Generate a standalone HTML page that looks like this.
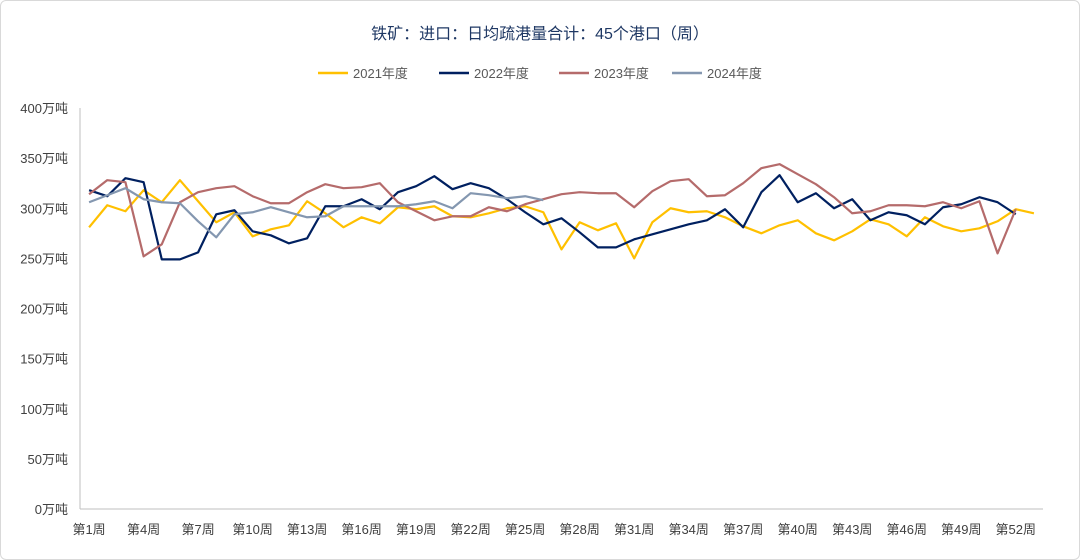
<!DOCTYPE html>
<html><head><meta charset="utf-8"><style>
body{margin:0;background:#fff;}
#card{position:absolute;left:0;top:0;width:1078px;height:558px;border:1px solid #d9d9d9;border-radius:6px;background:#fff;}
svg{position:absolute;left:0;top:0;}
text{font-family:"Liberation Sans","Noto Sans CJK SC",sans-serif;}
</style></head><body>
<div id="card"></div>
<svg id="chart" width="1080" height="560"></svg>
<script>
const weeks = Array.from({length:53},(_,i)=>'第'+(i+1)+'周');
const seriesNames = ['2021年度','2022年度','2023年度','2024年度'];
const y2021 = [281,303,297,318,306,328,307,286,296,272,279,283,307,295,281,291,285,301,299,302,292,291,295,300,302,296,259,286,278,285,250,286,300,296,297,291,282,275,283,288,275,268,277,289,284,272,291,282,277,280,287,299,295];
const y2022 = [318,312,330,326,249,249,256,294,298,277,273,265,270,302,302,309,299,316,322,332,319,325,320,309,296,284,290,276,261,261,269,274,279,284,288,299,281,316,333,306,315,300,309,288,296,293,284,301,304,311,306,294];
const y2023 = [314,328,326,252,264,306,316,320,322,312,305,305,316,324,320,321,325,306,297,288,292,292,301,297,304,309,314,316,315,315,301,317,327,329,312,313,325,340,344,334,324,311,295,297,303,303,302,306,300,307,255,299];
const y2024 = [306,313,320,309,306,305,287,271,294,296,301,296,291,292,302,302,302,302,304,307,300,315,313,310,312,308];
const yTicks = [0,50,100,150,200,250,300,350,400];
const colors = ['#FFC000','#002060','#B56B6B','#8497B0'];
const allSeries = [y2021,y2022,y2023,y2024];

const svg = document.getElementById('chart');
const NS='http://www.w3.org/2000/svg';
const L=80,R=1043,T=108,B=509;
const bw=(R-L)/weeks.length;
const xs=i=>L+(i+0.5)*bw;
const ys=v=>B-(v/400)*(B-T);
function mk(tag,attrs,parent){const e=document.createElementNS(NS,tag);for(const k in attrs)e.setAttribute(k,attrs[k]);(parent||svg).appendChild(e);return e;}

const title=mk('text',{x:540,y:39,'text-anchor':'middle','font-size':'16',fill:'#1F3864'});
title.textContent='铁矿：进口：日均疏港量合计：45个港口（周）';



// legend
const legX=[318,439,559,672];
seriesNames.forEach((n,k)=>{
  const g=mk('g',{});
  
  
  mk('line',{x1:legX[k],x2:legX[k]+30,y1:73,y2:73,stroke:colors[k],'stroke-width':2.5},g);
  const t=mk('text',{x:legX[k]+35,y:78,'font-size':'13',fill:'#595959'},g);
  t.textContent=n;
});

// axes
const ya=mk('line',{x1:L,x2:L,y1:T,y2:B,stroke:'#bfbfbf','stroke-width':1});


const xa=mk('line',{x1:L,x2:R,y1:B,y2:B,stroke:'#bfbfbf','stroke-width':1});



yTicks.forEach(v=>{
  const t=mk('text',{x:L-12,y:ys(v)+5,'text-anchor':'end','font-size':'13',fill:'#404040'});
  t.textContent=v+'万吨';
  
  
});
weeks.forEach((w,i)=>{
  if(i%3!==0) return;
  const t=mk('text',{x:xs(i),y:B+25,'text-anchor':'middle','font-size':'13',fill:'#404040'});
  t.textContent=w;
  
  
});

allSeries.forEach((s,k)=>{
  const p=mk('polyline',{points:s.map((v,i)=>xs(i)+','+ys(v)).join(' '),fill:'none',stroke:colors[k],'stroke-width':2.2,'stroke-linejoin':'round'});
  
  
});
</script>
</body></html>
